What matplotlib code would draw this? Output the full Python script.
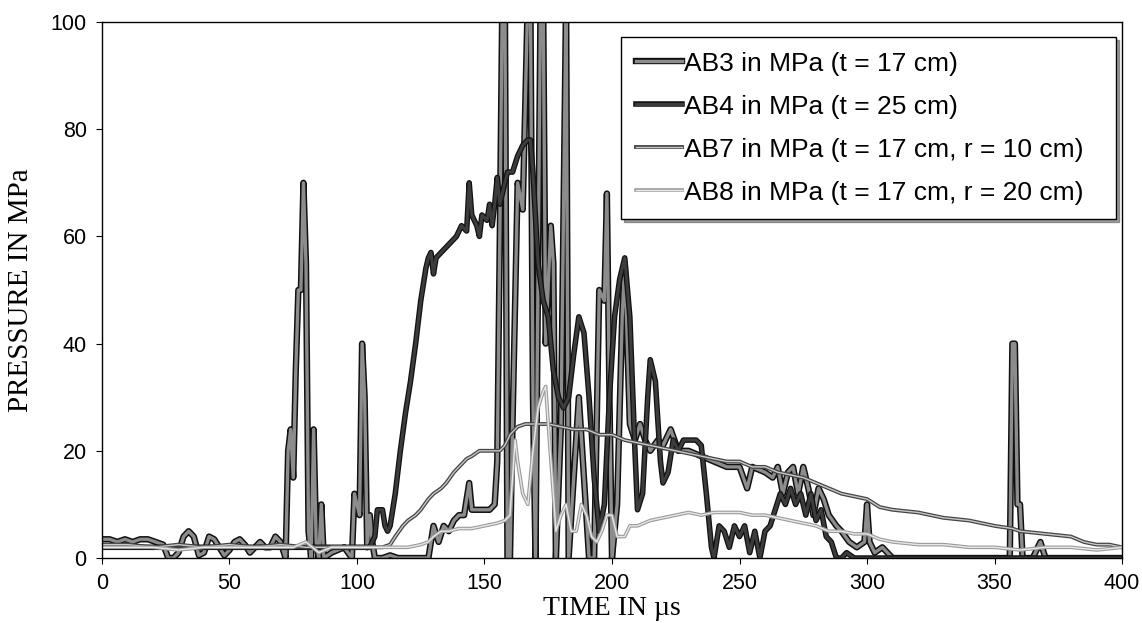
import matplotlib.pyplot as plt
import matplotlib.patheffects as pe

# pressure traces (time in us, pressure in MPa)
ab3_t = [0, 3, 6, 9, 12, 15, 18, 21, 24, 26, 28, 30, 32, 34, 36, 38, 40, 42, 44, 46,
         48, 50, 52, 54, 56, 58, 60, 62, 64, 66, 68, 70, 72, 73, 74, 75, 76, 77, 78, 79,
         80, 81, 82, 83, 84, 85, 86, 87, 90, 95, 98, 99, 100, 101, 102, 103, 104, 105,
         106, 107, 110, 113, 116, 120, 125, 128, 130, 132, 134, 136, 138, 140, 142, 144,
         145, 147, 150, 152, 154, 155, 156, 157, 158, 159, 160, 161, 163, 165, 167, 168,
         169, 170, 172, 173, 174, 176, 177, 178, 180, 182, 183, 185, 187, 189, 191, 193,
         195, 197, 198, 199, 200, 202, 204, 205, 207, 209, 211, 213, 215, 218, 220, 223,
         226, 230, 235, 240, 245, 250, 253, 255, 260, 263, 265, 267, 269, 271, 273, 275,
         277, 279, 281, 283, 285, 288, 290, 293, 296, 299, 300, 301, 303, 306, 308, 310,
         320, 330, 340, 350, 356, 357, 358, 359, 360, 361, 365, 368, 370, 380, 390, 400]
ab3_p = [3.5, 3.5, 3, 3.5, 3, 3.5, 3.5, 3, 2.5, 0, 0, 1, 4, 5, 4, 0.5, 1, 4, 3.5, 2,
         0.5, 1.5, 3, 3.5, 2.5, 1, 2, 3, 2, 2, 4, 3, 0, 20, 24, 15, 35, 50, 50, 70,
         55, 5, 0, 24, 3, 0, 10, 0, 1, 2, 0, 12, 10, 8, 40, 30, 2, 8,
         3, 0, 0, 0.5, 0, 0, 0, 0, 6, 3, 6, 5, 7, 8, 8, 14,
         9, 9, 9, 9, 10, 18, 60, 105, 105, 0, 0, 25, 70, 65, 105, 105,
         30, 0, 105, 105, 40, 62, 55, 0, 25, 105, 0, 15, 30, 15, 0, 0,
         50, 48, 68, 30, 0, 10, 45, 55, 25, 22, 25, 22, 20, 22, 21, 24,
         20, 20, 19, 18, 17, 17, 13, 17, 16, 15, 17, 12, 16, 17, 12, 17,
         13, 8, 13, 11, 8, 6, 5, 3, 2, 3, 10, 3, 1, 2, 1, 0,
         0, 0, 0, 0, 0, 40, 40, 10, 10, 0, 0, 3, 0, 0, 0, 0]

ab4_t = [0, 20, 40, 60, 80, 100, 105, 107, 108, 110, 111, 112, 113, 115, 117, 119, 121,
         123, 125, 127, 128, 129, 130, 131, 133, 135, 137, 139, 141, 143, 144, 145, 147,
         148, 149, 151, 152, 153, 154, 155, 156, 157, 159, 161, 163, 165, 167, 168, 169,
         171, 173, 175, 177, 179, 181, 183, 185, 187, 189, 191, 193, 195, 197, 199, 201,
         203, 205, 207, 209, 210, 212, 214, 215, 217, 219, 220, 222, 224, 226, 228, 230,
         233, 235, 237, 239, 240, 242, 244, 246, 248, 250, 252, 254, 256, 258, 260, 262,
         264, 266, 268, 270, 272, 274, 276, 278, 280, 282, 284, 286, 288, 290, 292, 295,
         300, 320, 340, 360, 380, 400]
ab4_p = [2, 2, 2, 2, 2, 2, 2, 4, 9, 9, 6, 5, 6, 12, 20, 27, 33,
         40, 48, 54, 56, 57, 53, 56, 57, 58, 59, 60, 62, 61, 70, 64, 62,
         60, 64, 63, 66, 62, 66, 71, 66, 68, 72, 72, 75, 77, 78, 78, 72,
         55, 48, 45, 35, 30, 28, 30, 38, 45, 42, 30, 15, 5, 10, 30, 45,
         52, 56, 45, 20, 9, 12, 30, 37, 33, 18, 14, 16, 22, 20, 22, 22,
         22, 21, 12, 2, 0, 6, 5, 2, 6, 4, 6, 1, 5, 0, 5, 6,
         9, 12, 10, 13, 10, 12, 8, 12, 7, 9, 4, 3, 0, 0, 1, 0,
         0, 0, 0, 0, 0, 0]

ab7_t = [0, 10, 20, 30, 40, 50, 60, 70, 80, 90, 100, 110, 113, 115, 118, 120, 123, 125,
         128, 130, 133, 135, 138, 140, 143, 145, 148, 150, 153, 156, 158, 160, 163, 166,
         170, 175, 180, 185, 190, 195, 200, 205, 210, 215, 220, 225, 230, 235, 240, 245,
         250, 255, 260, 265, 270, 275, 280, 285, 290, 295, 300, 305, 310, 320, 330, 340,
         350, 357, 360, 370, 380, 385, 390, 395, 400]
ab7_p = [2.5, 2.5, 2, 2.5, 2, 2.5, 2, 2.5, 2, 2, 2, 2, 2.5, 4, 6, 7, 8, 9,
         11, 12, 13, 14, 16, 17, 18.5, 19, 20, 20, 20, 20, 21, 23, 24.5, 25,
         25, 25, 24.5, 24, 24, 23, 23, 22, 21.5, 21, 20.5, 20, 19.5, 19, 18.5, 18,
         18, 17, 17, 16, 15.5, 15, 14, 13, 12, 11.5, 11, 9.5, 9, 8.5, 7.5, 7,
         6, 5.5, 5, 4.5, 4, 3, 2.5, 2.5, 2]

ab8_t = [0, 10, 20, 30, 40, 50, 60, 70, 75, 80, 85, 90, 100, 110, 115, 120, 125, 128,
         130, 133, 136, 140, 145, 150, 155, 158, 160, 161, 162, 163, 165, 167, 169, 171,
         173, 174, 175, 177, 178, 180, 182, 184, 186, 188, 190, 192, 194, 196, 198, 200,
         202, 205, 207, 210, 215, 220, 225, 230, 235, 240, 245, 250, 255, 260, 265, 270,
         275, 280, 285, 290, 295, 300, 305, 310, 320, 330, 340, 350, 360, 370, 380, 390, 400]
ab8_p = [2, 2, 2, 1.5, 2, 2, 2, 2, 2, 3, 1, 2, 2, 2, 2, 2, 2.5, 3,
         4, 5, 5, 5.5, 5.5, 6, 6.5, 7, 8, 15, 22, 18, 12, 10, 20, 28,
         31, 32, 25, 12, 5, 8, 10, 5, 5, 10, 8, 4, 3, 5, 8, 8,
         4, 4, 6, 6, 7, 7.5, 8, 8.5, 8, 8.5, 8.5, 8.5, 8, 8, 7.5, 7,
         6.5, 6, 5, 5, 4.5, 4.5, 3.5, 3, 2.5, 2.5, 2, 2, 1.5, 2, 2, 1.5, 2]

labels = ["AB3 in MPa (t = 17 cm)",
          "AB4 in MPa (t = 25 cm)",
          "AB7 in MPa (t = 17 cm, r = 10 cm)",
          "AB8 in MPa (t = 17 cm, r = 20 cm)"]

fig = plt.figure(figsize=(11.42, 6.23), dpi=100)
ax = fig.add_axes([0.0893, 0.1043, 0.8932, 0.8604])

# scanned look: gray core with a darker rim
ax.plot(ab3_t, ab3_p, color="#8c8c8c", lw=2.4, label=labels[0],
        path_effects=[pe.Stroke(linewidth=4.6, foreground="#111111"), pe.Normal()])
ax.plot(ab4_t, ab4_p, color="#3c3c3c", lw=2.2, label=labels[1],
        path_effects=[pe.Stroke(linewidth=4.0, foreground="#111111"), pe.Normal()])
ax.plot(ab7_t, ab7_p, color="#c8c8c8", lw=1.0, label=labels[2],
        path_effects=[pe.Stroke(linewidth=2.8, foreground="#454545"), pe.Normal()])
ax.plot(ab8_t, ab8_p, color="#e8e8e8", lw=1.0, label=labels[3],
        path_effects=[pe.Stroke(linewidth=2.6, foreground="#9a9a9a"), pe.Normal()])

ax.set_xlim(0, 400)
ax.set_ylim(0, 100)
ax.set_xticks(range(0, 401, 50))
ax.set_yticks(range(0, 101, 20))
ax.tick_params(direction="out", length=4, width=0.8, labelsize=15.5, pad=7)
for lbl in ax.get_xticklabels() + ax.get_yticklabels():
    lbl.set_family("Liberation Sans")
for s in ax.spines.values():
    s.set_linewidth(1.0)

ax.set_xlabel("TIME IN \u00b5s", family="Liberation Serif", fontsize=20, labelpad=1)
ax.set_ylabel("PRESSURE IN MPa", family="Liberation Serif", fontsize=21, labelpad=12)

leg = ax.legend(loc="upper left", bbox_to_anchor=(0.509, 0.3, 0.485, 0.672),
                mode="expand", borderaxespad=0,
                prop={"family": "Liberation Sans", "size": 19},
                fancybox=False, frameon=True, edgecolor="black", framealpha=1,
                handlelength=1.75, handletextpad=0.08, labelspacing=0.72,
                borderpad=0.55, shadow={"ox": 2, "oy": -2, "color": "#444444"})
leg.get_frame().set_linewidth(1.0)

fig.savefig("out.png", dpi=100)
